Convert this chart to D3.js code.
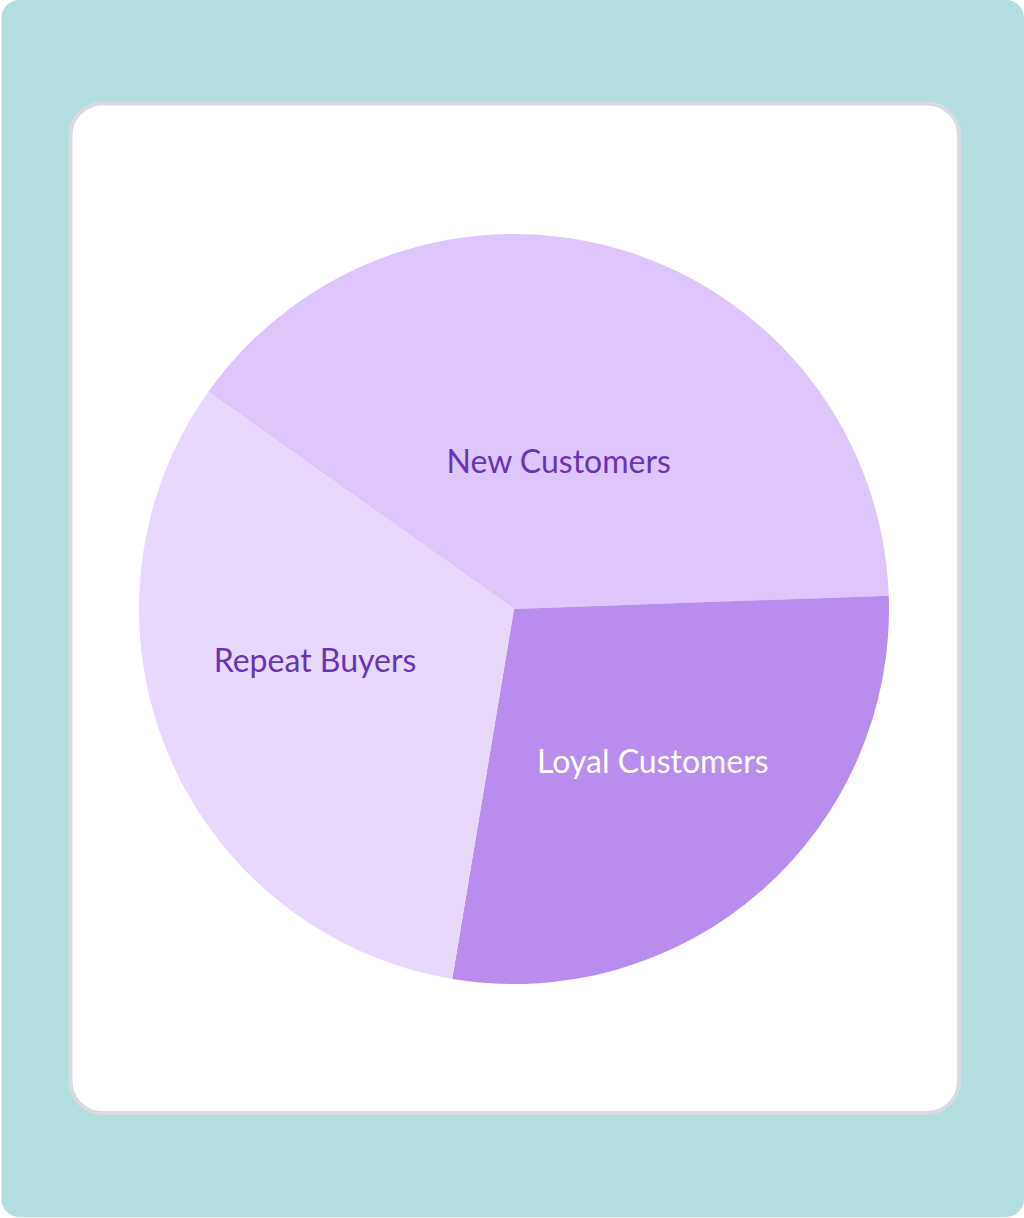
<!DOCTYPE html>
<html>
<head>
<meta charset="utf-8">
<script src="https://cdn.jsdelivr.net/npm/d3@7"></script>
<style>
  html, body { margin: 0; padding: 0; background: #ffffff; }
  svg { display: block; }
</style>
</head>
<body>
<div id="chart"></div>
<script>
// ---- Data ----
const categories = ["New Customers", "Loyal Customers", "Repeat Buyers"];
const shares = [39.6, 28.2, 32.2];            // percent of customers
const sliceColors = ["#DEC6FD", "#B98DED", "#E8D8FE"];
const labelColors = ["#6A33B3", "#FFFFFF", "#6A33B3"];

// ---- Layout ----
const W = 1024, H = 1218;
const card = { x: 70.5, y: 103.5, w: 888.5, h: 1009.5, rx: 32 };
const cx = 514, cy = 609, R = 375;
const startDeg = -54.6;
// label placement relative to slice (radius fraction, angular nudge in degrees)
const labelLayout = [
  { rf: 0.415, nudge: 0 },
  { rf: 0.547, nudge: -1.3 },
  { rf: 0.547, nudge: 8.5 }
];

const svg = d3.select("#chart").append("svg")
  .attr("width", W).attr("height", H);

svg.append("rect")
  .attr("x", 1.5).attr("y", 0).attr("width", W - 1.5).attr("height", H - 1)
  .attr("rx", 18).attr("fill", "#B2DEDF");

svg.append("rect")
  .attr("x", card.x).attr("y", card.y).attr("width", card.w).attr("height", card.h)
  .attr("rx", card.rx).attr("fill", "#FFFFFF")
  .attr("stroke", "#D9DBE0").attr("stroke-width", 4);

const data = categories.map((c, i) => ({ name: c, value: shares[i], i }));

const start = startDeg * Math.PI / 180;
const pie = d3.pie().sort(null).value(d => d.value)
  .startAngle(start).endAngle(start + 2 * Math.PI);
const arcs = pie(data);

const arc = d3.arc().innerRadius(0).outerRadius(R);

const g = svg.append("g").attr("transform", `translate(${cx},${cy})`);

g.selectAll("path.slice").data(arcs).join("path")
  .attr("class", "slice")
  .attr("d", arc)
  .attr("fill", d => sliceColors[d.data.i]);

g.selectAll("text.label").data(arcs).join("text")
  .attr("class", "label")
  .attr("transform", d => {
    const L = labelLayout[d.data.i];
    const mid = (d.startAngle + d.endAngle) / 2 + L.nudge * Math.PI / 180;
    const r = R * L.rf;
    return `translate(${r * Math.sin(mid)},${-r * Math.cos(mid)})`;
  })
  .attr("text-anchor", "middle")
  .attr("dy", "0.40em")
  .attr("font-family", "Lato, 'Open Sans', sans-serif")
  .attr("font-size", 32)
  .attr("fill", d => labelColors[d.data.i])
  .text(d => d.data.name);
</script>
</body>
</html>
